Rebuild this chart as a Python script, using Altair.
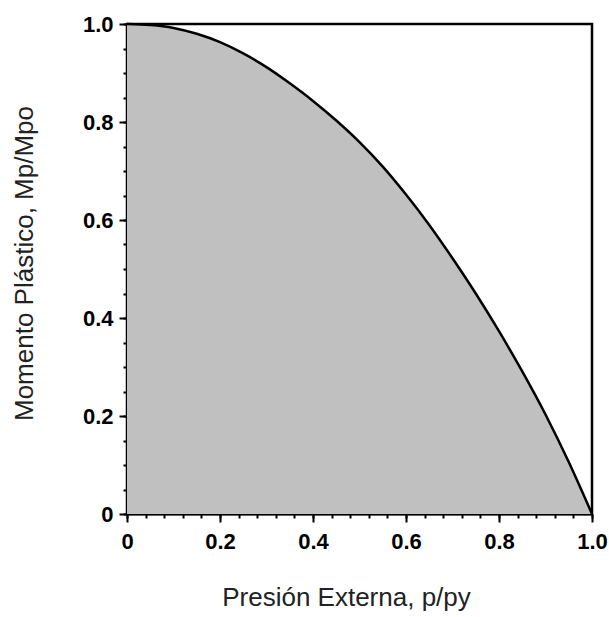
import altair as alt
import pandas as pd

p_vals = [0.0, 0.05, 0.10, 0.15, 0.20, 0.25, 0.30, 0.35, 0.40, 0.45, 0.50, 0.55, 0.60, 0.65, 0.70, 0.75, 0.80, 0.85, 0.90, 0.95, 1.0]
m_vals = [1.0, 0.998, 0.992, 0.980, 0.963, 0.940, 0.912, 0.879, 0.843, 0.803, 0.759, 0.709, 0.652, 0.590, 0.522, 0.450, 0.373, 0.291, 0.203, 0.106, 0.0]

x_major = [0, 0.2, 0.4, 0.6, 0.8, 1.0]
y_major = [0, 0.2, 0.4, 0.6, 0.8, 1.0]
x_minor = [round(i * 0.04, 2) for i in range(26)]
y_minor = [round(i * 0.05, 2) for i in range(21)]

x_title = "Presión Externa, p/py"
y_title = "Momento Plástico, Mp/Mpo"

df = pd.DataFrame({"p": p_vals, "m": m_vals})

lab = "datum.value == 0 ? '0' : format(datum.value, '.1f')"

xs = alt.Scale(domain=[0, 1], nice=False, zero=False)
ys = alt.Scale(domain=[0, 1], nice=False, zero=False)

x_axis_major = alt.Axis(
    orient="bottom", values=x_major, labelExpr=lab, tickSize=8, tickWidth=2,
    tickColor="black", domainColor="black", domainWidth=2, grid=False,
    labelFont="Liberation Sans", labelFontWeight="bold", labelFontSize=22,
    labelColor="black", labelPadding=9, labelFlush=False,
    title=x_title, titleFont="Liberation Sans", titleFontWeight="normal",
    titleFontSize=26, titleColor="#222222", titleX=219, titleY=91,
    titleAlign="center", titleBaseline="alphabetic", titleAnchor=None,
)
y_axis_major = alt.Axis(
    orient="left", values=y_major, labelExpr=lab, tickSize=8, tickWidth=2,
    tickColor="black", domainColor="black", domainWidth=2, grid=False,
    labelFont="Liberation Sans", labelFontWeight="bold", labelFontSize=22,
    labelColor="black", labelPadding=6, labelFlush=False,
    title=y_title, titleFont="Liberation Sans", titleFontWeight="normal",
    titleFontSize=26, titleColor="#222222", titleX=-95, titleY=239,
    titleAngle=-90, titleAlign="center", titleBaseline="alphabetic",
)
x_axis_minor = alt.Axis(
    orient="bottom", values=x_minor, labels=False, tickSize=4, tickWidth=2,
    tickColor="black", domain=False, grid=False, title=None,
)
y_axis_minor = alt.Axis(
    orient="left", values=y_minor, labels=False, tickSize=4, tickWidth=2,
    tickColor="black", domain=False, grid=False, title=None,
)

area = alt.Chart(df).mark_area(color="#c0c0c0", opacity=1, interpolate="monotone").encode(
    x=alt.X("p:Q", scale=xs, axis=x_axis_major),
    y=alt.Y("m:Q", scale=ys, axis=y_axis_major),
)
line = alt.Chart(df).mark_line(color="black", strokeWidth=2.5, interpolate="monotone").encode(
    x=alt.X("p:Q", scale=xs, axis=x_axis_minor),
    y=alt.Y("m:Q", scale=ys, axis=y_axis_minor),
)

chart = alt.layer(area, line).resolve_axis(
    x="independent", y="independent"
).properties(
    width=465, height=490,
    autosize=alt.AutoSizeParams(type="none"),
    padding={"left": 127, "top": 24, "right": 17, "bottom": 103},
    background="white",
).configure_view(stroke="black", strokeWidth=2.5)

chart.save("out.html", embed_options={"renderer": "svg", "actions": False})
